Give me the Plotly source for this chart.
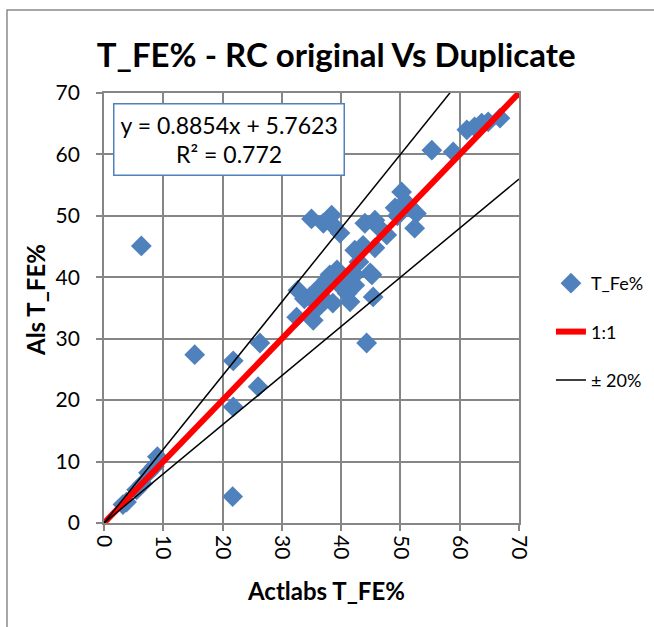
import plotly.graph_objects as go

# ---- data ----
actlabs = [3.2, 3.8, 5.5, 6.5, 7.5, 8.5, 9.0,
           6.3, 15.3, 21.8, 26.3, 26.0, 21.8, 21.7, 44.3,
           35.0, 37.0, 38.4, 38.6, 39.8, 44.0, 45.7, 46.5, 47.7, 42.3, 43.7, 45.7,
           50.2, 50.8, 49.1, 52.7, 52.4, 51.6, 49.5,
           38.1, 39.3, 42.3, 44.9, 32.7, 32.5, 35.3, 34.7, 37.6, 39.0, 37.3, 38.6,
           41.0, 41.5, 42.3, 45.2, 45.4, 36.4, 33.8, 40.0, 36.0, 40.5, 43.0,
           55.3, 58.9, 61.2, 63.7, 64.8, 66.8, 62.5]
als = [3.0, 3.4, 5.4, 6.4, 8.2, 9.2, 10.8,
       45.1, 27.4, 26.4, 29.3, 22.2, 18.9, 4.3, 29.3,
       49.5, 48.8, 50.1, 48.5, 47.2, 48.8, 49.3, 48.0, 46.9, 44.4, 45.2, 44.8,
       53.9, 52.3, 51.3, 50.4, 48.0, 51.4, 50.0,
       40.4, 41.2, 40.4, 40.7, 37.9, 33.5, 33.0, 36.8, 39.6, 40.7, 36.3, 35.8,
       37.4, 36.0, 38.7, 40.4, 36.8, 38.4, 36.5, 38.5, 35.0, 40.0, 42.5,
       60.7, 60.4, 64.0, 65.1, 65.3, 65.9, 64.5]

line_x = [0, 70]
one_to_one = [0, 70]
plus20 = [0, 84]
minus20 = [0, 56]

tick_vals = [0, 10, 20, 30, 40, 50, 60, 70]

FONT = "Lato"
GRID = "#868686"

fig = go.Figure()
fig.add_trace(go.Scatter(
    x=actlabs, y=als, mode="markers", name="T_Fe%",
    marker=dict(symbol="diamond", size=16, color="#4F81BD", line=dict(width=0)),
))
fig.add_trace(go.Scatter(
    x=line_x, y=one_to_one, mode="lines", name="1:1",
    line=dict(color="#FF0000", width=6), legendgroup="b",
))
fig.add_trace(go.Scatter(
    x=line_x, y=plus20, mode="lines", name="± 20%",
    line=dict(color="#000000", width=1.5), legendgroup="c",
))
fig.add_trace(go.Scatter(
    x=line_x, y=minus20, mode="lines", name="-20%", showlegend=False,
    line=dict(color="#000000", width=1.5), legendgroup="c",
))

axis_common = dict(
    range=[0, 70], tickvals=tick_vals, showgrid=True, gridcolor=GRID, gridwidth=1.8,
    showline=True, linecolor=GRID, linewidth=1.8, mirror=True,
    ticks="outside", ticklen=6, tickcolor=GRID, tickwidth=1.8,
    zeroline=False, tickfont=dict(family=FONT, size=21, color="#000000"),
    fixedrange=True,
)

fig.update_layout(
    width=654, height=627,
    margin=dict(l=104, r=135, t=93, b=104, autoexpand=False),
    paper_bgcolor="white", plot_bgcolor="white",
    title=dict(text="<b>T_FE% - RC original Vs Duplicate</b>",
               font=dict(family=FONT, size=33, color="#000000"),
               x=0.514, xanchor="center", y=0.912, yanchor="middle"),
    xaxis=dict(axis_common, tickangle=90),
    yaxis=dict(axis_common, ticklabelstandoff=12),
    legend=dict(x=1.077, y=0.6, xanchor="left", yanchor="top",
                font=dict(family=FONT, size=18, color="#000000"),
                tracegroupgap=22, bgcolor="rgba(0,0,0,0)"),
    showlegend=True,
    shapes=[dict(type="rect", xref="paper", yref="paper",
                 x0=(7 - 104) / 415, x1=(700 - 104) / 415,
                 y0=(523 - 700) / 430, y1=(523 - 10) / 430,
                 line=dict(color="#8a8a8a", width=1.5), layer="below")],
    annotations=[
        dict(text="y = 0.8854x + 5.7623<br>R² = 0.772",
             xref="paper", yref="paper",
             x=(229 - 104) / 415, y=(523 - 140) / 430,
             xanchor="center", yanchor="middle", showarrow=False,
             font=dict(family=FONT, size=23, color="#000000"),
             bgcolor="white", bordercolor="#4F81BD", borderwidth=1.5, borderpad=6),
        dict(text="<b>Actlabs T_FE%</b>", xref="paper", yref="paper",
             x=(326 - 104) / 415, y=(523 - 590) / 430,
             xanchor="center", yanchor="middle", showarrow=False,
             font=dict(family=FONT, size=24, color="#000000")),
        dict(text="<b>Als T_FE%</b>", xref="paper", yref="paper",
             x=(35 - 104) / 415, y=(523 - 300) / 430, textangle=-90,
             xanchor="center", yanchor="middle", showarrow=False,
             font=dict(family=FONT, size=24, color="#000000")),
    ],
)

fig.write_html("out.html")
